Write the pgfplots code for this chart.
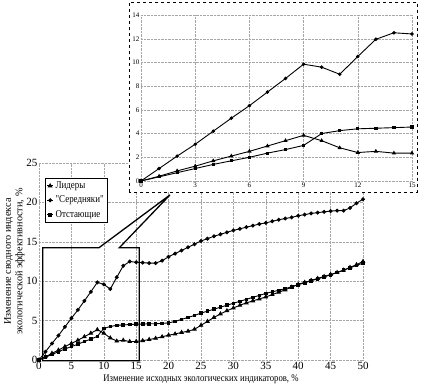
\documentclass[border=0pt]{standalone}
\usepackage{pgfplots}
\pgfplotsset{compat=1.18}
\usepackage{pgfplotstable}
\usepackage{fontspec}
\setmainfont{Liberation Serif}
\newfontfamily\condfont[FakeStretch=0.85]{Liberation Serif}

\pgfplotstableread{
x lid ser ots
0 0 0 0
1 0.4 1.05 0.35
2 0.85 2.1 0.7
3 1.25 3.1 1.05
4 1.7 4.2 1.4
5 2.1 5.3 1.7
6 2.5 6.35 2.0
7 2.95 7.5 2.35
8 3.4 8.65 2.65
9 3.85 9.85 3.0
10 3.4 9.6 4.0
11 2.8 9.0 4.25
12 2.4 10.5 4.4
13 2.5 11.95 4.45
14 2.35 12.5 4.5
15 2.35 12.4 4.55
16 2.45 12.35 4.55
17 2.6 12.3 4.6
18 2.75 12.3 4.6
19 2.95 12.6 4.65
20 3.15 13.1 4.7
21 3.3 13.5 4.9
22 3.5 13.9 5.15
23 3.65 14.3 5.4
24 3.9 14.7 5.65
25 4.4 15.1 5.95
26 4.9 15.4 6.2
27 5.4 15.7 6.45
28 5.85 15.95 6.7
29 6.25 16.2 6.95
30 6.6 16.45 7.2
31 6.95 16.65 7.45
32 7.25 16.85 7.7
33 7.5 17.05 7.95
34 7.75 17.25 8.2
35 8.0 17.4 8.45
36 8.3 17.6 8.65
37 8.6 17.8 8.85
38 8.9 17.95 9.05
39 9.25 18.1 9.3
40 9.6 18.3 9.55
41 9.85 18.45 9.8
42 10.1 18.6 10.05
43 10.35 18.7 10.3
44 10.6 18.8 10.55
45 10.85 18.9 10.8
46 11.1 18.95 11.1
47 11.4 18.95 11.4
48 11.75 19.3 11.7
49 12.1 19.9 12.0
50 12.5 20.4 12.3
}\maindata

\pgfplotstableread{
x lid ser ots
0 0 0 0
1 0.4 1.05 0.35
2 0.85 2.1 0.7
3 1.25 3.1 1.05
4 1.7 4.2 1.4
5 2.1 5.3 1.7
6 2.5 6.35 2.0
7 2.95 7.5 2.35
8 3.4 8.65 2.65
9 3.85 9.85 3.0
10 3.4 9.6 4.0
11 2.8 9.0 4.25
12 2.4 10.5 4.4
13 2.5 11.95 4.45
14 2.35 12.5 4.5
15 2.35 12.4 4.55
}\insetdata

\begin{document}
\begin{tikzpicture}
\pgfplotsset{
  mystyle/.style={
    scale only axis,
    axis line style={draw=none},
    major tick length=0pt,
    grid=major,
    major grid style={gray!70, densely dotted, line width=0.4pt},
    /pgf/number format/assume math mode=true,
    every axis plot/.append style={black, line width=0.9pt},
  }
}
\begin{axis}[mystyle,
  at={(39pt,27pt)}, anchor=south west,
  width=324pt, height=197pt,
  xmin=0, xmax=50, ymin=0, ymax=25,
  xtick={0,5,...,50}, ytick={0,5,...,25},
  tick label style={font=\fontsize{11}{11}\selectfont},
  xticklabel style={yshift=-1pt, inner sep=1pt},
  yticklabel style={xshift=2pt},
  clip=false,
  xlabel={\condfont Изменение исходных экологических индикаторов, \%},
  xlabel style={font=\fontsize{10.2}{10}\selectfont, yshift=-3pt, inner sep=1pt},
  ylabel={Изменение сводного индекса\\ экологической эффективности, \%},
  ylabel style={font=\fontsize{10.2}{11.5}\selectfont, align=center, yshift=-5pt},
  legend style={at={(0.0185,0.924)}, anchor=north west, draw=black, line width=0.4pt,
    font=\condfont\fontsize{10.5}{10}\selectfont, inner sep=1.5pt, row sep=2pt,
    cells={anchor=west}},
  legend image code/.code={\draw[#1] (0pt,0pt) -- (6pt,0pt); \draw[#1, only marks] plot coordinates {(3pt,0pt)};},
]
\addplot[mark=triangle*, mark size=1.9pt] table[x=x,y=lid] {\maindata};
\addlegendentry{Лидеры}
\addplot[mark=*, mark size=1.5pt] table[x=x,y=ser] {\maindata};
\addlegendentry{"Середняки"}
\addplot[mark=square*, mark size=1.3pt] table[x=x,y=ots] {\maindata};
\addlegendentry{Отстающие}
\draw[line width=1.3pt, line join=miter] (axis cs:0.57,-0.1) -- (axis cs:0.57,14.25) -- (axis cs:9.26,14.25) -- (axis cs:20.2,20.94) -- (axis cs:12.4,14.25) -- (axis cs:15.48,14.25) -- (axis cs:15.48,-0.1) -- cycle;
\end{axis}

\fill[white] (129pt,195pt) rectangle (417pt,385pt);

\begin{axis}[mystyle,
  at={(141pt,206pt)}, anchor=south west,
  width=271pt, height=166pt,
  xmin=0, xmax=15, ymin=0, ymax=14,
  xtick={0,3,...,15}, ytick={0,2,...,14},
  tick label style={font=\fontsize{7}{7}\selectfont},
  xticklabel style={yshift=2pt},
  yticklabel style={xshift=2pt},
  clip=false,
]
\addplot[mark=triangle*, mark size=1.6pt] table[x=x,y=lid] {\insetdata};
\addplot[mark=*, mark size=1.3pt] table[x=x,y=ser] {\insetdata};
\addplot[mark=square*, mark size=1.1pt] table[x=x,y=ots] {\insetdata};
\end{axis}
\draw[dashed, line width=0.8pt] (129pt,195pt) rectangle (417pt,385pt);
\pgfresetboundingbox
\useasboundingbox (0,0) rectangle (426pt,387pt);
\end{tikzpicture}
\end{document}
